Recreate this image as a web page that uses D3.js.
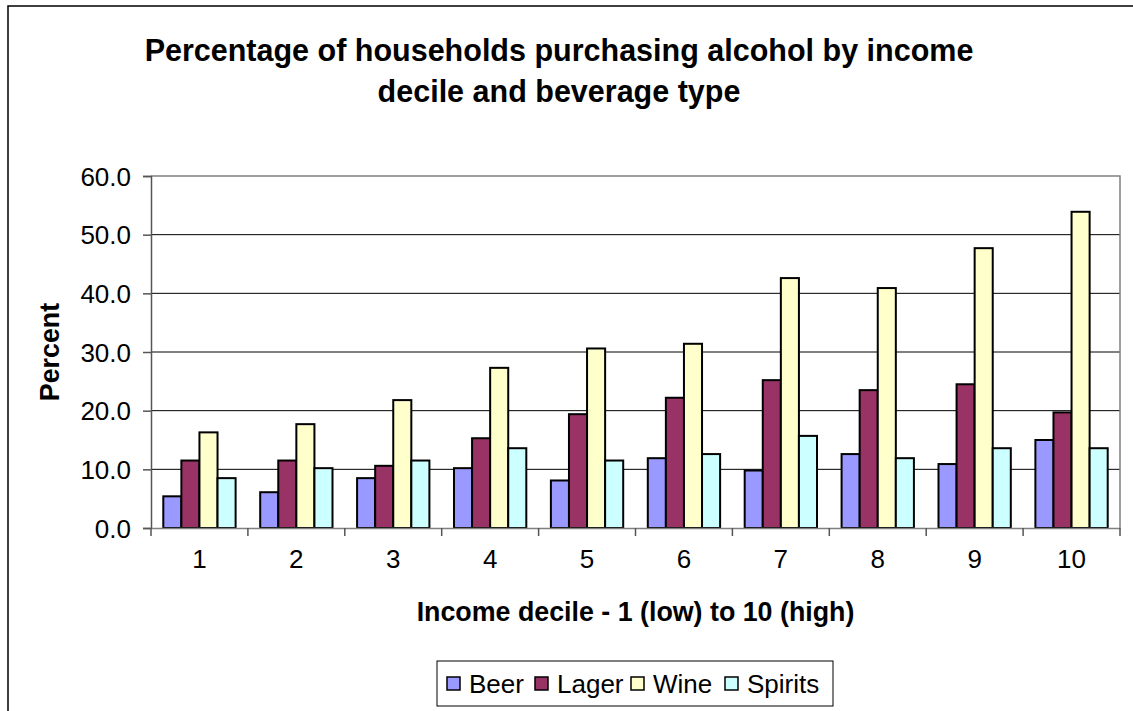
<!DOCTYPE html>
<html>
<head>
<meta charset="utf-8">
<script src="https://cdn.jsdelivr.net/npm/d3@7"></script>
<style>
  body { margin: 0; background: #fff; }
  text { font-family: "Liberation Sans", Arial, sans-serif; fill: #000; }
</style>
</head>
<body>
<div class="container"></div>
<script>
var deciles = ["1", "2", "3", "4", "5", "6", "7", "8", "9", "10"];
var seriesNames = ["Beer", "Lager", "Wine", "Spirits"];
var seriesColors = ["#9999ff", "#993366", "#ffffcc", "#ccffff"];

var beer    = [5.4, 6.1, 8.5, 10.2, 8.1, 11.9, 9.8, 12.6, 10.9, 15.0];
var lager   = [11.5, 11.5, 10.6, 15.3, 19.4, 22.2, 25.2, 23.5, 24.5, 19.7];
var wine    = [16.3, 17.7, 21.8, 27.3, 30.6, 31.4, 42.6, 40.9, 47.7, 53.9];
var spirits = [8.5, 10.2, 11.5, 13.6, 11.5, 12.6, 15.7, 11.9, 13.6, 13.6];

var yTicks = [0, 10, 20, 30, 40, 50, 60];

var w = 1133, h = 711;
var plotLeft = 151, plotRight = 1120, plotTop = 176, plotBottom = 528;

var allSeries = [beer, lager, wine, spirits];
var dataset = [];
for (var i = 0; i < deciles.length; i++) {
    for (var s = 0; s < seriesNames.length; s++) {
        dataset.push([deciles[i], seriesNames[s], allSeries[s][i], seriesColors[s]]);
    }
}

var svg = d3.select(".container")
    .append("svg")
    .attr("width", w)
    .attr("height", h);

// outer chart border
svg.append("rect")
    .attr("x", 8).attr("y", 6)
    .attr("width", w + 20).attr("height", h + 20)
    .attr("fill", "#fff")
    .attr("stroke", "#000")
    .attr("stroke-width", 1.5);

var x0 = d3.scaleBand()
    .domain(deciles)
    .range([plotLeft, plotRight]);

var x1 = d3.scaleBand()
    .domain(seriesNames)
    .range([0, x0.bandwidth()])
    .paddingOuter(0.68);

var y = d3.scaleLinear()
    .domain([0, 60])
    .range([plotBottom, plotTop]);

// gridlines
svg.selectAll("line.grid")
    .data(yTicks.slice(1, -1))
    .enter()
    .append("line")
    .attr("class", "grid")
    .attr("x1", plotLeft).attr("x2", plotRight)
    .attr("y1", function(d) { return y(d); })
    .attr("y2", function(d) { return y(d); })
    .attr("stroke", "#000")
    .attr("stroke-width", 1);

// plot area frame (top and right)
svg.append("path")
    .attr("d", "M" + plotLeft + "," + plotTop + "H" + plotRight + "V" + plotBottom)
    .attr("fill", "none")
    .attr("stroke", "#808080")
    .attr("stroke-width", 1.5);

// bars
svg.selectAll("rect.bar")
    .data(dataset)
    .enter()
    .append("rect")
    .attr("class", "bar")
    .attr("x", function(d) { return x0(d[0]) + x1(d[1]); })
    .attr("y", function(d) { return y(d[2]); })
    .attr("width", x1.bandwidth())
    .attr("height", function(d) { return y(0) - y(d[2]); })
    .attr("fill", function(d) { return d[3]; })
    .attr("stroke", "#000")
    .attr("stroke-width", 2);

// y axis
var yAxis = d3.axisLeft(y)
    .tickValues(yTicks)
    .tickFormat(d3.format(".1f"))
    .tickSize(8)
    .tickPadding(12);

var gy = svg.append("g")
    .attr("transform", "translate(" + plotLeft + ",0)")
    .call(yAxis);
gy.select(".domain").attr("stroke", "#555").attr("stroke-width", 1.5);
gy.selectAll(".tick line").attr("stroke", "#555").attr("stroke-width", 1.5);
gy.selectAll("text").attr("font-size", "26px").attr("font-family", null).attr("dy", "0.35em");

// x axis
var xAxis = d3.axisBottom(x0)
    .tickSize(0)
    .tickPadding(22);

var gx = svg.append("g")
    .attr("transform", "translate(0," + plotBottom + ")")
    .call(xAxis);
gx.select(".domain").attr("stroke", "#808080").attr("stroke-width", 1.5);
gx.selectAll("text").attr("font-size", "26px").attr("font-family", null);

// category separator ticks
var sepTicks = deciles.map(function(d) { return x0(d); }).concat([plotRight]);
svg.selectAll("line.sep")
    .data(sepTicks)
    .enter()
    .append("line")
    .attr("class", "sep")
    .attr("x1", function(d) { return d; })
    .attr("x2", function(d) { return d; })
    .attr("y1", plotBottom)
    .attr("y2", plotBottom + 8)
    .attr("stroke", "#555")
    .attr("stroke-width", 1.5);

// title
svg.append("text")
    .attr("x", 559).attr("y", 61)
    .attr("text-anchor", "middle")
    .attr("font-size", "30.5px")
    .attr("font-weight", "bold")
    .text("Percentage of households purchasing alcohol by income");
svg.append("text")
    .attr("x", 559).attr("y", 102)
    .attr("text-anchor", "middle")
    .attr("font-size", "30.5px")
    .attr("font-weight", "bold")
    .text("decile and beverage type");

// axis titles
svg.append("text")
    .attr("x", (plotLeft + plotRight) / 2).attr("y", 621)
    .attr("text-anchor", "middle")
    .attr("font-size", "26.8px")
    .attr("font-weight", "bold")
    .text("Income decile - 1 (low) to 10 (high)");

svg.append("text")
    .attr("transform", "translate(59," + ((plotTop + plotBottom) / 2) + ")rotate(-90)")
    .attr("text-anchor", "middle")
    .attr("font-size", "26.8px")
    .attr("font-weight", "bold")
    .text("Percent");

// legend
var legendX = [447, 535, 631, 725];
var legend = svg.append("g");
legend.append("rect")
    .attr("x", 437).attr("y", 661)
    .attr("width", 396).attr("height", 45)
    .attr("fill", "#fff")
    .attr("stroke", "#000")
    .attr("stroke-width", 1);

var items = legend.selectAll("g.item")
    .data(seriesNames)
    .enter()
    .append("g")
    .attr("class", "item")
    .attr("transform", function(d, i) { return "translate(" + legendX[i] + ",0)"; });

items.append("rect")
    .attr("x", 0).attr("y", 677)
    .attr("width", 13).attr("height", 13)
    .attr("fill", function(d, i) { return seriesColors[i]; })
    .attr("stroke", "#000")
    .attr("stroke-width", 1.5);

items.append("text")
    .attr("x", 22).attr("y", 693)
    .attr("font-size", "26px")
    .text(function(d) { return d; });
</script>
</body>
</html>
